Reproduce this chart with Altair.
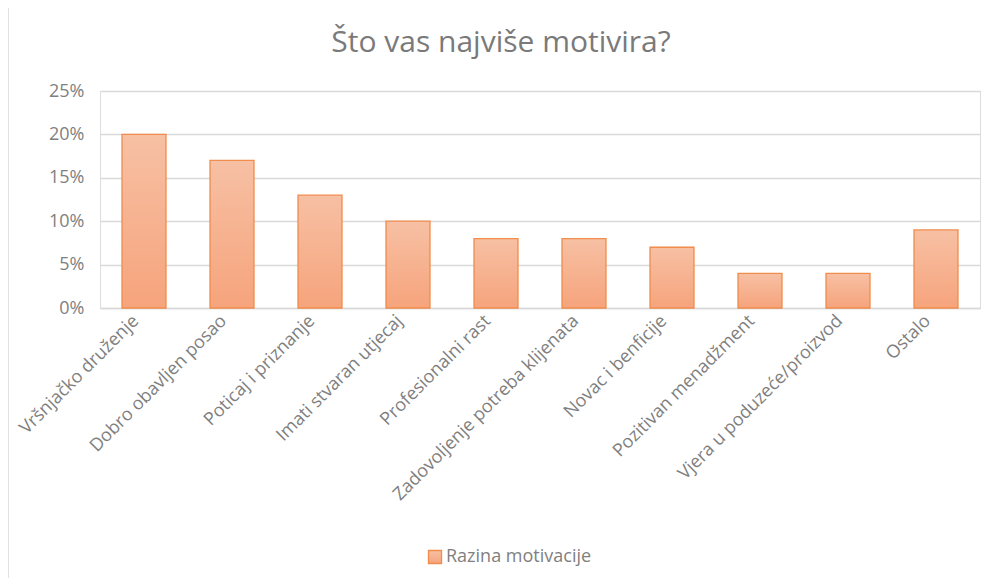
import altair as alt
import pandas as pd

categories = [
    "Vršnjačko druženje",
    "Dobro obavljen posao",
    "Poticaj i priznanje",
    "Imati stvaran utjecaj",
    "Profesionalni rast",
    "Zadovoljenje potreba klijenata",
    "Novac i benficije",
    "Pozitivan menadžment",
    "Vjera u poduzeće/proizvod",
    "Ostalo",
]
values = [0.20, 0.17, 0.13, 0.10, 0.08, 0.08, 0.07, 0.04, 0.04, 0.09]
series_name = "Razina motivacije"
y_ticks = [0, 0.05, 0.10, 0.15, 0.20, 0.25]

df = pd.DataFrame({"kategorija": categories, "vrijednost": values, "serija": series_name})

FONT = "Open Sans"
LABEL = "#7f7f7f"
FRAME = "#d9d9d9"

gradient = alt.Gradient(
    gradient="linear",
    stops=[alt.GradientStop(color="#F7C0A4", offset=0), alt.GradientStop(color="#F6A47C", offset=1)],
    x1=0, x2=0, y1=0, y2=1,
)

bars = (
    alt.Chart(df)
    .mark_bar(fill=gradient, strokeWidth=1.3, strokeOpacity=1)
    .encode(
        x=alt.X(
            "kategorija:N",
            sort=categories,
            title=None,
            scale=alt.Scale(paddingInner=0.5, paddingOuter=0.25),
            axis=alt.Axis(
                labelAngle=-45,
                labelAlign="right",
                labelBaseline="middle",
                labelFont=FONT,
                labelFontSize=18,
                labelColor=LABEL,
                labelPadding=10,
                labelOffset=-8,
                ticks=False,
                domainColor=FRAME,
                domainWidth=1.5,
                labelLimit=400,
            ),
        ),
        y=alt.Y(
            "vrijednost:Q",
            title=None,
            scale=alt.Scale(domain=[0, 0.25]),
            axis=alt.Axis(
                values=y_ticks,
                format=".0%",
                labelFont=FONT,
                labelFontSize=18,
                labelColor=LABEL,
                labelPadding=16,
                ticks=False,
                domain=False,
                gridColor=FRAME,
                gridWidth=1.5,
            ),
        ),
        stroke=alt.Stroke(
            "serija:N",
            scale=alt.Scale(range=["#F08C4C"]),
            legend=alt.Legend(
                title=None,
                orient="none",
                legendX=326,
                legendY=457,
                symbolType="square",
                symbolFillColor="#F6B08F",
                symbolSize=170,
                symbolStrokeWidth=1.3,
                labelFont=FONT,
                labelFontSize=18,
                labelColor=LABEL,
                labelOffset=2,
            ),
        ),
    )
)

frame_data = alt.Data(values=[{"f": 1}])
border_left = alt.Chart(frame_data).mark_rule(color=FRAME, strokeWidth=1.5).encode(
    x=alt.value(-92), y=alt.value(-84), y2=alt.value(487)
)
border_top = alt.Chart(frame_data).mark_rule(color=FRAME, strokeWidth=1.5).encode(
    x=alt.value(-92), x2=alt.value(884), y=alt.value(-84)
)

chart = (
    alt.layer(border_left, border_top, bars)
    .properties(
        width=880,
        height=217,
        autosize=alt.AutoSizeParams(type="none"),
        padding={"left": 92, "top": 83, "right": 4, "bottom": 270},
        title=alt.TitleParams(
            text="Što vas najviše motivira?",
            font=FONT,
            fontSize=30,
            fontWeight="normal",
            color="#7a7a7a",
            anchor="middle",
            frame="bounds",
            offset=0,
            dy=52,
            dx=5,
        ),
    )
    .configure_view(stroke=None)
    .configure(background="white")
)

chart.save("out.html", embed_options={"renderer": "svg", "actions": False})
